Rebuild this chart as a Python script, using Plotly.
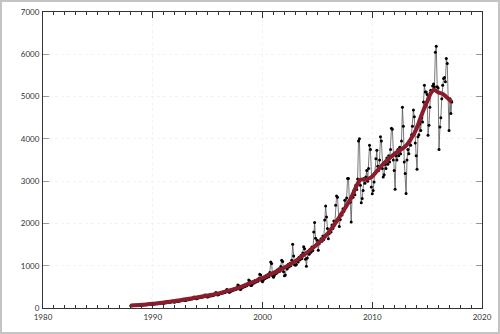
import plotly.graph_objects as go

# ---- data ----
start_year = 1988  # first monthly observation (January)

monthly_values = [
    # 1988
    52, 55, 60, 58, 62, 57, 63, 60, 66, 72, 70, 64,
    # 1989
    68, 70, 76, 74, 80, 78, 85, 82, 90, 98, 96, 88,
    # 1990
    90, 94, 100, 98, 106, 100, 110, 106, 116, 128, 124, 112,
    # 1991
    112, 118, 128, 124, 134, 128, 140, 136, 148, 162, 158, 142,
    # 1992
    140, 150, 162, 156, 170, 162, 176, 172, 186, 205, 200, 180,
    # 1993
    178, 188, 204, 196, 212, 204, 222, 214, 232, 258, 250, 222,
    # 1994
    218, 232, 250, 240, 262, 250, 270, 262, 282, 310, 300, 268,
    # 1995
    258, 270, 292, 282, 305, 292, 318, 300, 330, 365, 350, 310,
    # 1996
    320, 330, 350, 345, 370, 355, 385, 365, 400, 440, 425, 380,
    # 1997
    370, 390, 420, 405, 445, 425, 460, 435, 480, 545, 525, 450,
    # 1998
    440, 470, 505, 490, 535, 510, 555, 525, 580, 665, 640, 540,
    # 1999
    530, 570, 615, 590, 645, 615, 665, 630, 700, 800, 780, 650,
    # 2000
    620, 660, 725, 700, 760, 720, 790, 740, 840, 1090, 1050, 760,
    # 2001
    730, 770, 850, 815, 900, 850, 930, 870, 980, 1130, 1100, 860,
    # 2002
    760, 780, 960, 920, 1030, 970, 1060, 1000, 1130, 1510, 1230, 1020,
    # 2003
    1010, 1030, 1130, 1090, 1200, 1140, 1240, 1170, 1300, 1450, 1400, 1150,
    # 2004
    990, 1180, 1320, 1270, 1390, 1320, 1440, 1360, 1800, 2020, 1650, 1500,
    # 2005
    1600, 1365, 1520, 1580, 1640, 1580, 1700, 1620, 2080, 2410, 2150, 1880,
    # 2006
    1640, 1760, 1850, 1800, 1960, 1880, 2060, 1960, 2430, 2650, 2620, 2100,
    # 2007
    1930, 2090, 2240, 2200, 2350, 2280, 2550, 2400, 2600, 3060, 3060, 2540,
    # 2008
    2500, 2035, 2650, 2620, 2780, 2680, 2900, 2800, 3050, 3950, 4000, 2900,
    # 2009
    2490, 2590, 2780, 3060, 2950, 3100, 3250, 3000, 3300, 3850, 3750, 2860,
    # 2010
    2700, 2780, 2980, 3200, 3530, 3730, 3350, 3250, 3500, 4050, 3950, 3300,
    # 2011
    3100, 3150, 3400, 3300, 3550, 3400, 3600, 3450, 3750, 4250, 4230, 3500,
    # 2012
    3250, 2810, 3600, 3500, 3750, 3600, 3800, 3650, 3950, 4750, 4300, 3450,
    # 2013
    3180, 2710, 3500, 3750, 3650, 3950, 3850, 4100, 4300, 4680, 4520, 3900,
    # 2014
    3600, 3280, 4050, 4100, 4350, 4200, 4500, 4400, 4870, 5270, 5110, 5110,
    # 2015
    5050, 4085, 4320, 4750, 5150, 5100, 5250, 5300, 5230, 6050, 6190, 5230,
    # 2016
    5200, 3750, 4280, 4500, 4950, 5270, 5430, 5450, 5350, 5900, 5780, 4950,
    # 2017
    4200, 4950, 4600, 4870,
]

trend_years = [1988, 1989, 1990, 1991, 1992, 1993, 1994, 1995, 1996, 1997,
               1998, 1999, 2000, 2001, 2002, 2003, 2004, 2005, 2006, 2007,
               2008, 2008.5, 2008.9, 2009.4, 2009.9, 2010.5, 2011, 2012, 2013,
               2013.5, 2014, 2014.5, 2015, 2015.4, 2015.65, 2016, 2016.5,
               2017, 2017.25]
trend_values = [58, 75, 100, 128, 165, 205, 250, 295, 345, 415,
                495, 600, 710, 830, 960, 1110, 1300, 1510, 1780, 2150,
                2570, 2850, 3030, 3040, 3090, 3260, 3410, 3640, 3820,
                3990, 4220, 4570, 4880, 5110, 5160, 5100, 5050,
                4930, 4870]

x_range = [1980, 2020]
y_range = [0, 7000]

# ---- figure ----
obs_x = [start_year + i / 12 for i in range(len(monthly_values))]

fig = go.Figure()
fig.add_trace(go.Scatter(
    x=obs_x, y=monthly_values, mode="lines+markers",
    line=dict(color="#555555", width=0.8),
    marker=dict(color="black", size=3),
    hoverinfo="skip",
))
fig.add_trace(go.Scatter(
    x=trend_years, y=trend_values, mode="lines",
    line=dict(color="#8b1c2c", width=4, shape="spline", smoothing=0.8),
    hoverinfo="skip",
))

W, H = 500, 334
ml, mr, mt, mb = 43, 18, 12, 26
pw, ph = W - ml - mr, H - mt - mb

tickfont = dict(family="Lato", size=8, color="#333333")

fig.update_layout(
    width=W, height=H,
    margin=dict(l=ml, r=mr, t=mt, b=mb, pad=0, autoexpand=False),
    showlegend=False,
    plot_bgcolor="white",
    paper_bgcolor="white",
    xaxis=dict(
        range=x_range, tick0=1980, dtick=10,
        ticks="inside", ticklen=6, tickwidth=1, tickcolor="#333333",
        showline=True, linecolor="#333333", linewidth=1, mirror="ticks",
        showgrid=True, gridcolor="#f3f3f3", griddash="dot", gridwidth=1,
        zeroline=False, tickfont=tickfont, automargin=False,
        ticklabelstandoff=1,
        minor=dict(dtick=1, ticks="inside", ticklen=3, tickcolor="#333333",
                   showgrid=False),
    ),
    yaxis=dict(
        range=y_range, tick0=0, dtick=1000,
        ticks="inside", ticklen=6, tickwidth=1, tickcolor="#999999",
        showline=True, linecolor="#333333", linewidth=1, mirror="ticks",
        showgrid=True, gridcolor="#f3f3f3", griddash="dot", gridwidth=1,
        zeroline=False, tickfont=tickfont, automargin=False,
        ticklabelstandoff=1,
    ),
    shapes=[dict(
        type="rect", xref="paper", yref="paper",
        x0=(-ml + 1) / pw, x1=1 + (mr - 1) / pw,
        y0=(-mb + 1) / ph, y1=1 + (mt - 1) / ph,
        line=dict(color="#c4c4c4", width=2), fillcolor="rgba(0,0,0,0)",
        layer="above",
    )],
)

fig.write_html(
    "out.html",
    config={"displayModeBar": False, "staticPlot": True},
    post_script="document.body.style.margin='0';document.body.style.overflow='hidden';",
)
